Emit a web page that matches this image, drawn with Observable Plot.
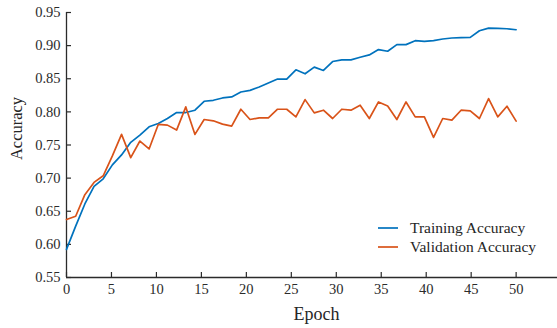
<!DOCTYPE html>
<html>
<head>
<meta charset="utf-8">
<script src="https://cdn.jsdelivr.net/npm/d3@7"></script>
<script src="https://cdn.jsdelivr.net/npm/@observablehq/plot@0.6"></script>
<style>
  html, body { margin: 0; padding: 0; background: #fff; }
  svg text { font-family: 'Liberation Serif', 'Times New Roman', serif; }
</style>
</head>
<body>
<div id="chart"></div>
<script>
const seriesNames = ["Training Accuracy", "Validation Accuracy"];
const seriesColors = ["#0072BD", "#D95319"];
const trainAcc = [
  0.5925, 0.6275, 0.661, 0.6875, 0.699, 0.72, 0.735, 0.754, 0.765, 0.7775,
  0.7825, 0.79, 0.799, 0.799, 0.8025, 0.816, 0.8175, 0.821, 0.8225, 0.83,
  0.8325, 0.8375, 0.8435, 0.8495, 0.8495, 0.8635, 0.8575, 0.8675, 0.8625, 0.876,
  0.8785, 0.8785, 0.8825, 0.886, 0.894, 0.8915, 0.9015, 0.9015, 0.9075, 0.9065,
  0.9075, 0.91, 0.9115, 0.912, 0.9125, 0.9225, 0.9265, 0.926, 0.9255, 0.924
];
const valAcc = [
  0.6375, 0.6425, 0.675, 0.6935, 0.7035, 0.7335, 0.766, 0.731, 0.756, 0.744,
  0.781, 0.78, 0.7725, 0.8075, 0.766, 0.7885, 0.7865, 0.7815, 0.7785, 0.804,
  0.7885, 0.791, 0.791, 0.804, 0.804, 0.7925, 0.8185, 0.7985, 0.8025, 0.79,
  0.804, 0.8025, 0.81, 0.79, 0.815, 0.809, 0.7885, 0.815, 0.7925, 0.7925,
  0.7615, 0.79, 0.7875, 0.8025, 0.8015, 0.79, 0.82, 0.7925, 0.8085, 0.786
];
const xTicks = [0, 5, 10, 15, 20, 25, 30, 35, 40, 45, 50];
const yTicks = [0.55, 0.60, 0.65, 0.70, 0.75, 0.80, 0.85, 0.90, 0.95];
const xLabel = "Epoch";
const yLabel = "Accuracy";

// 50 samples spread evenly over epochs 0..50
const lastEpoch = 50;
const toRows = (vals, name) => vals.map((v, i) => ({epoch: i * lastEpoch / (vals.length - 1), acc: v, series: name}));
const rows = [...toRows(trainAcc, seriesNames[0]), ...toRows(valAcc, seriesNames[1])];

const font = "'Liberation Serif', 'Times New Roman', serif";
const axisColor = "#2b2b2b";

function legendMark(index, scales, values, dim) {
  const g = d3.create("svg:g").attr("font-family", font).attr("font-size", 15.5)
    .attr("fill", "#262626").attr("text-anchor", "start");
  const x0 = dim.width - dim.marginRight - 179;
  const yBase = dim.height - dim.marginBottom;
  seriesNames.forEach((name, i) => {
    const y = yBase - 49 + i * 19;
    g.append("line").attr("x1", x0).attr("x2", x0 + 20).attr("y1", y).attr("y2", y)
      .attr("stroke", seriesColors[i]).attr("stroke-width", 1.7);
    g.append("text").attr("x", x0 + 32).attr("y", y).attr("dy", "0.32em").text(name);
  });
  return g.node();
}

const chart = Plot.plot({
  width: 557,
  height: 328,
  marginLeft: 66,
  marginRight: 0,
  marginTop: 12,
  marginBottom: 51,
  style: {fontFamily: font, background: "#fff", color: axisColor},
  x: {domain: [0, 54.6]},
  y: {domain: [0.55, 0.95]},
  color: {domain: seriesNames, range: seriesColors},
  marks: [
    Plot.axisX({ticks: xTicks, tickSize: -5, tickPadding: 11, fontSize: 14.5, fontFamily: font, label: null, stroke: axisColor, strokeWidth: 1.2}),
    Plot.axisY({ticks: yTicks, tickSize: -5, tickPadding: 11, fontSize: 14.5, fontFamily: font, tickFormat: d3.format(".2f"), label: null, stroke: axisColor, strokeWidth: 1.2}),
    Plot.ruleY([0.55], {stroke: axisColor, strokeWidth: 1.3}),
    Plot.ruleX([0], {stroke: axisColor, strokeWidth: 1.3}),
    Plot.line(rows, {x: "epoch", y: "acc", z: "series", stroke: "series", strokeWidth: 1.7}),
    Plot.text([xLabel], {frameAnchor: "bottom", textAnchor: "middle", lineAnchor: "middle", dx: 4.5, dy: 37, fontSize: 18, fontFamily: font, fill: "#262626"}),
    Plot.text([yLabel], {frameAnchor: "left", textAnchor: "middle", lineAnchor: "middle", rotate: -90, dx: -49.5, dy: -16.5, fontSize: 16.5, fontFamily: font, fill: "#262626"}),
    legendMark
  ]
});
document.getElementById("chart").appendChild(chart);
</script>
</body>
</html>
